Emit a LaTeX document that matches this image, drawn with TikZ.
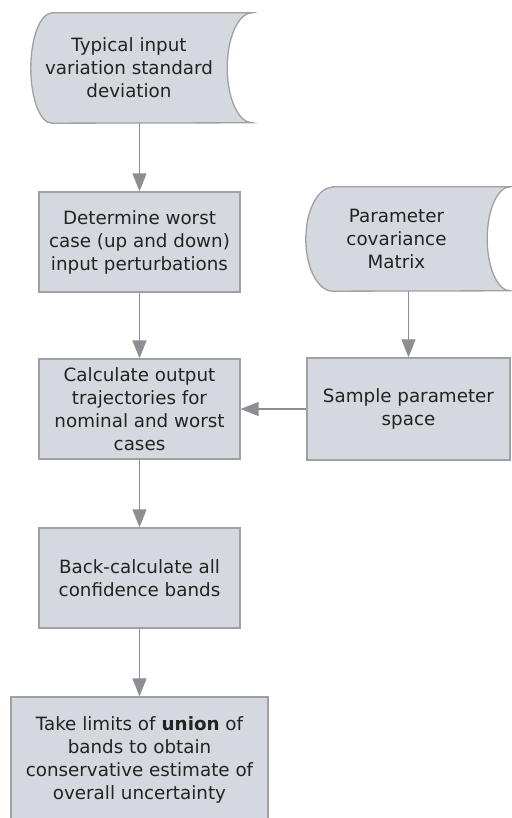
\documentclass[tikz,border=0pt]{standalone}
\usepackage{fontspec}
\setmainfont{DejaVu Sans}
\usepackage{xcolor}
\usetikzlibrary{arrows.meta,backgrounds}

\definecolor{boxfill}{RGB}{213,216,222}
\definecolor{boxline}{RGB}{158,160,164}
\definecolor{flowline}{RGB}{140,142,147}
\definecolor{boxtext}{RGB}{35,35,35}

% stored data outline round a node: name, bulge, notch, half height
\newcommand{\storedata}[4]{%
  \draw[outline] ([xshift=#2]#1.north west) -- ([xshift=#3]#1.north east)
    arc[start angle=90, end angle=270, x radius=#3, y radius=#4]
    -- ([xshift=#2]#1.south west)
    arc[start angle=270, end angle=90, x radius=#2, y radius=#4] -- cycle;}

\begin{document}
\begin{tikzpicture}[x=1pt, y=1pt,
  outline/.style={draw=boxline, fill=boxfill, line width=1.3pt},
  txt/.style={inner sep=0pt, align=center, text=boxtext,
    font=\fontsize{18.3}{23}\selectfont},
  stepbox/.style={txt, outline},
  flow/.style={draw=flowline, line width=1.5pt,
    -{Triangle[width=14pt,length=18pt]}}]
  \useasboundingbox (0,0) rectangle (511,818);
  \clip (0,0) rectangle (511,818);

  % left column
  \node[txt, minimum width=196, minimum height=110] (typ) at (129,750)
    {Typical input\\variation standard\\deviation};
  \node[stepbox, minimum width=201, minimum height=100] (worst) at (139.5,576)
    {Determine worst\\case (up and down)\\input perturbations};
  \node[stepbox, minimum width=201, minimum height=100] (calc) at (139.5,409)
    {Calculate output\\trajectories for\\nominal and worst\\cases};
  \node[stepbox, minimum width=201, minimum height=100] (back) at (139.5,240)
    {Back-calculate all\\confidence bands};
  \node[stepbox, minimum width=257, minimum height=126] (limits) at (139.5,58)
    {Take limits of \textbf{union} of\\bands to obtain\\conservative estimate of\\overall uncertainty};

  % right column
  \node[txt, minimum width=181, minimum height=104] (cov) at (396.5,579)
    {Parameter\\covariance\\Matrix};
  \node[stepbox, minimum width=203, minimum height=102] (sample) at (408.5,409)
    {Sample parameter\\space};

  \begin{scope}[on background layer]
    \storedata{typ}{21}{25}{55}
    \storedata{cov}{27}{23}{52}
  \end{scope}

  \draw[flow] (worst.north |- typ.south) -- (worst.north);
  \draw[flow] (worst) -- (calc);
  \draw[flow] (calc) -- (back);
  \draw[flow] (back) -- (limits);
  \draw[flow] (sample.north |- cov.south) -- (sample.north);
  \draw[flow] (sample) -- (calc);
\end{tikzpicture}
\end{document}
